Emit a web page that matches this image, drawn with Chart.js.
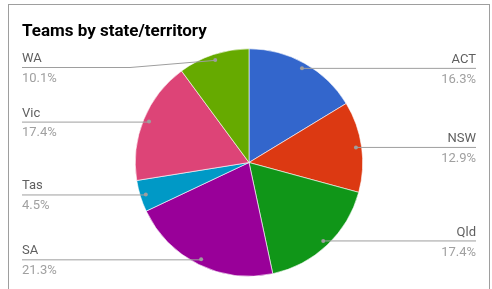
<!DOCTYPE html>
<html>
<head>
<meta charset="utf-8">
<script src="https://cdn.jsdelivr.net/npm/chart.js@4/dist/chart.umd.min.js"></script>
<style>
  html, body { margin: 0; padding: 0; background: #fff; }
  #wrap { width: 492px; height: 289px; position: relative; }
</style>
</head>
<body>
<div id="wrap"><canvas id="pieChart" width="492" height="289"></canvas></div>
<script>
const states = ['ACT', 'NSW', 'Qld', 'SA', 'Tas', 'Vic', 'WA'];
const shares = [16.3, 12.9, 17.4, 21.3, 4.5, 17.4, 10.1];
const colours = ['#3366cc', '#dc3912', '#109618', '#990099', '#0099c6', '#dd4477', '#66aa00'];

const FONT = 'Roboto, "Noto Sans", sans-serif';

// frame + title + leader lines with labels
const calloutPlugin = {
  id: 'callouts',
  beforeDraw(chart) {
    const ctx = chart.ctx;
    ctx.save();
    ctx.strokeStyle = '#9e9e9e';
    ctx.lineWidth = 1;
    ctx.strokeRect(8.5, 4.5, 481, 300);
    ctx.fillStyle = '#000';
    ctx.font = 'bold 17px ' + FONT;
    ctx.textBaseline = 'alphabetic';
    ctx.fillText('Teams by state/territory', 22, 36);
    ctx.restore();
  },
  afterDatasetsDraw(chart) {
    const ctx = chart.ctx;
    const meta = chart.getDatasetMeta(0);
    const total = shares.reduce((a, b) => a + b, 0);
    ctx.save();
    meta.data.forEach((arc, i) => {
      const p = arc.getProps(['x', 'y', 'startAngle', 'endAngle', 'outerRadius'], true);
      const mid = (p.startAngle + p.endAngle) / 2;
      const r = p.outerRadius * 0.95;
      const dx = p.x + Math.cos(mid) * r;
      const dy = p.y + Math.sin(mid) * r;
      const right = Math.cos(mid) >= 0;
      const ly = Math.max(dy, 67);
      const pct = (shares[i] / total * 100).toFixed(1) + '%';

      ctx.strokeStyle = '#9e9e9e';
      ctx.lineWidth = 1;
      ctx.beginPath();
      if (right) {
        ctx.moveTo(dx, dy);
        ctx.lineTo(476, ly);
      } else {
        ctx.moveTo(22, ly + 0.5);
        if (ly !== dy) ctx.lineTo(130, ly + 0.5);
        ctx.lineTo(dx, dy + 0.5);
      }
      ctx.stroke();

      ctx.fillStyle = '#9e9e9e';
      ctx.beginPath();
      ctx.arc(dx, dy, 2, 0, Math.PI * 2);
      ctx.fill();

      ctx.font = '13px ' + FONT;
      ctx.textAlign = right ? 'right' : 'left';
      const tx = right ? 476 : 22;
      ctx.fillStyle = '#5f5f5f';
      ctx.textBaseline = 'alphabetic';
      ctx.fillText(states[i], tx, ly - 5);
      ctx.fillStyle = '#a0a0a0';
      ctx.textBaseline = 'top';
      ctx.fillText(pct, tx, ly + 5);
    });
    ctx.restore();
  }
};

new Chart(document.getElementById('pieChart').getContext('2d'), {
  type: 'pie',
  data: {
    labels: states,
    datasets: [{
      data: shares,
      backgroundColor: colours,
      borderColor: '#ffffff',
      borderWidth: 0.6
    }]
  },
  options: {
    responsive: false,
    animation: false,
    layout: { padding: { top: 48.5, bottom: 12.5, left: 6, right: 0 } },
    plugins: {
      legend: { display: false },
      title: { display: false },
      tooltip: { enabled: false }
    }
  },
  plugins: [calloutPlugin]
});
</script>
</body>
</html>
